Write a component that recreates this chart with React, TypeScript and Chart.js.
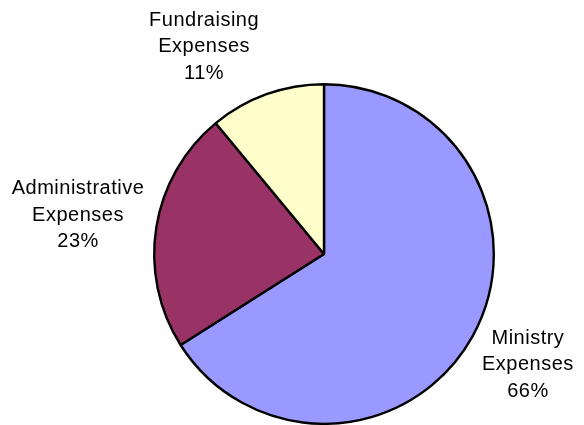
import React, { useEffect, useRef } from "react";
import { Chart, registerables } from "chart.js";

Chart.register(...registerables);

const categories = ["Ministry Expenses", "Administrative Expenses", "Fundraising Expenses"];
const percentValues = [66, 23, 11];
const sliceColors = ["#9999FF", "#993366", "#FFFFCC"];

const labelPlugin = {
  id: "excelLabels",
  afterDatasetsDraw(chart: any, _args: any, opts: any) {
    const ctx = chart.ctx as CanvasRenderingContext2D;
    const meta = chart.getDatasetMeta(0);
    const fs = opts.fontSize || 20;
    const lh = opts.lineHeight || 26.5;
    const gap = opts.gap || 17;
    const nudges: number[][] = opts.nudges || [];
    ctx.save();
    ctx.font = `${fs}px "Liberation Sans", Arial, sans-serif`;
    try {
      (ctx as any).letterSpacing = "0.5px";
    } catch (e) {}
    ctx.fillStyle = "#000";
    ctx.textAlign = "center";
    ctx.textBaseline = "alphabetic";
    meta.data.forEach((arc: any, i: number) => {
      const p = arc.getProps(["x", "y", "startAngle", "endAngle", "outerRadius"], true);
      const mid = (p.startAngle + p.endAngle) / 2;
      const words = String(chart.data.labels[i]).split(" ");
      const lines = [...words, `${chart.data.datasets[0].data[i]}%`];
      let w = 0;
      lines.forEach((l) => (w = Math.max(w, ctx.measureText(l).width)));
      const h = lines.length * lh;
      const cos = Math.cos(mid);
      const sin = Math.sin(mid);
      const nd = nudges[i] || [0, 0];
      const bx = p.x + (p.outerRadius + gap + w / 2) * cos + nd[0];
      const by = p.y + (p.outerRadius + gap + h / 2) * sin + nd[1];
      lines.forEach((l, j) => {
        const capCenter = by + (j - (lines.length - 1) / 2) * lh;
        ctx.fillText(l, bx, capCenter + 0.358 * fs);
      });
    });
    ctx.restore();
  },
};

export default function App() {
  const ref = useRef<HTMLCanvasElement>(null);
  useEffect(() => {
    document.body.style.margin = "0";
    const chart = new Chart(ref.current!, {
      type: "pie",
      data: {
        labels: categories,
        datasets: [
          {
            data: percentValues,
            backgroundColor: sliceColors,
            borderColor: "#000000",
            borderWidth: 2.4,
          },
        ],
      },
      options: {
        animation: false,
        responsive: false,
        maintainAspectRatio: false,
        layout: { padding: { left: 153, right: 89, top: 83, bottom: 0 } },
        plugins: {
          legend: { display: false },
          tooltip: { enabled: false },
          excelLabels: {
            fontSize: 20,
            lineHeight: 26.5,
            gap: 17,
            nudges: [
              [0, 0],
              [4, -5],
              [-38, 4],
            ],
          },
        } as any,
      },
      plugins: [labelPlugin],
    });
    return () => chart.destroy();
  }, []);
  return (
    <div style={{ width: 584, height: 425 }}>
      <canvas ref={ref} width={584} height={425} style={{ display: "block" }} />
    </div>
  );
}
